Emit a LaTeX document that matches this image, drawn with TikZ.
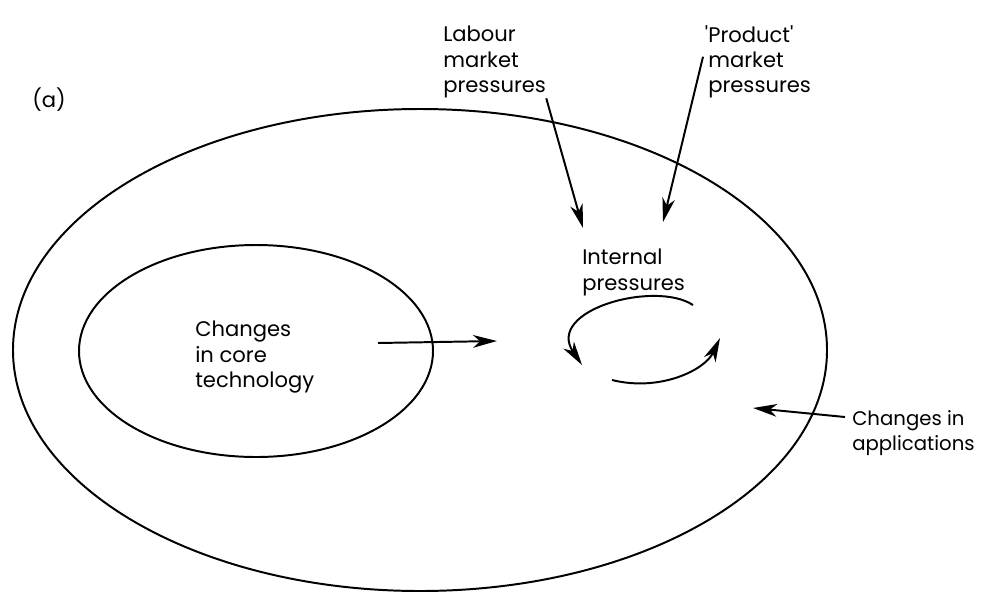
\documentclass[tikz,border=0pt]{standalone}
\usepackage{fontspec}
\setmainfont{Poppins}
\usetikzlibrary{positioning, arrows.meta}
\tikzset{
	boundary/.style={line width=1.4pt},
	influence/.style={line width=1.4pt, -{Stealth[length=17pt, width=9pt, inset=5pt]}},
	caption/.style={font=\fontsize{15}{18}\selectfont, align=left, inner sep=0pt, anchor=north west}
}

\begin{document}
\begin{tikzpicture}[x=0.025cm, y=-0.025cm]
\useasboundingbox (0,0) rectangle (984,593);
% outer ring and the core
\draw[boundary] (420,350) ellipse [x radius=407, y radius=241];
\draw[boundary] (256,351) ellipse [x radius=177, y radius=106];

\node[caption, anchor=center] (part) at (49,100) {(a)};
\node[caption] (core) at (195,321) {Changes\\in core\\technology};
\node[caption] (internal) at (582,249) {Internal\\pressures};
\node[caption] (labour) at (443,26) {Labour\\market\\pressures};
\node[caption] (product) at (708,25) {\llap{\textquotesingle}Product\textquotesingle\\market\\pressures};
\node[caption, font=\fontsize{14}{18}\selectfont] (applications) at (852,410) {Changes in\\applications};

\coordinate (labourIn) at (583,228);
\coordinate (productIn) at (663,222);
\coordinate (coreOut) at (378,343);
\coordinate (coreIn) at (497,341);
\coordinate (appIn) at (753,408);
\draw[influence] (labour.south east) -- (labourIn);
\draw[influence] ([shift={(-5,-5)}]product.west) -- (productIn);
\draw[influence] (coreOut) -- (coreIn);
\draw[influence] ([shift={(-7,7)}]applications.north west) -- (appIn);

% internal pressures loop
\coordinate (loopA) at (693,305);
\coordinate (loopB) at (582,365);
\coordinate (loopC) at (612,380);
\coordinate (loopD) at (720,338);
\draw[influence] (loopA) .. controls (655,280) and (545,310) .. (loopB);
\draw[influence] (loopC) .. controls (660,392) and (705,370) .. (loopD);
\end{tikzpicture}
\end{document}
